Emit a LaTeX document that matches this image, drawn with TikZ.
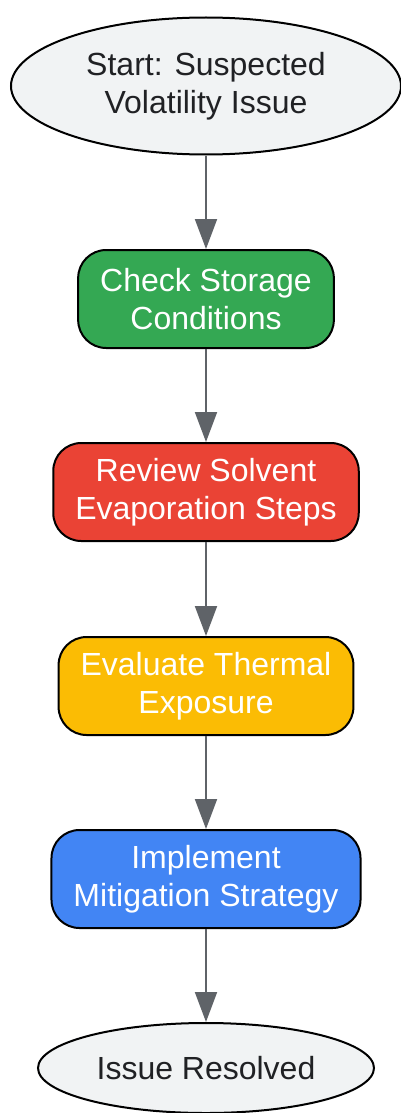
\documentclass[tikz,border=0pt]{standalone}
\usepackage{fontspec}
\setmainfont{Liberation Sans}
\usetikzlibrary{shapes.geometric,arrows.meta}
\definecolor{endfill}{HTML}{F1F3F4}
\definecolor{endtext}{HTML}{202124}
\definecolor{linkgray}{HTML}{5F6368}
\definecolor{stepgreen}{HTML}{34A853}
\definecolor{stepred}{HTML}{EA4335}
\definecolor{stepyellow}{HTML}{FBBC04}
\definecolor{stepblue}{HTML}{4285F4}
\begin{document}
\begin{tikzpicture}[x=1pt,y=1pt,
    every node/.style={font={\fontsize{32}{38.5}\selectfont}, align=center},
    terminal/.style={ellipse, draw=black, line width=2pt, fill=endfill, text=endtext, inner sep=0pt},
    stepbox/.style={rectangle, rounded corners=28pt, draw=black, line width=2pt, text=white,
                    minimum height=98pt, inner xsep=22pt},
    link/.style={draw=linkgray, line width=2pt, -{Triangle[length=30pt,width=22pt]}}]
    \useasboundingbox (0,0) rectangle (400,-1113);
    \node[terminal, minimum width=390pt, minimum height=137pt] (start) at (206,-86)
            {Start: Suspected\\Volatility Issue};
    \node[stepbox, fill=stepgreen] (storage) at (206,-299) {Check Storage\\Conditions};
    \node[stepbox, fill=stepred] (solvent) at (206,-492) {Review Solvent\\Evaporation Steps};
    \node[stepbox, fill=stepyellow] (thermal) at (206,-686) {Evaluate Thermal\\Exposure};
    \node[stepbox, fill=stepblue] (mitigate) at (206,-879) {Implement\\Mitigation Strategy};
    \node[terminal, minimum width=336pt, minimum height=90pt] (resolved) at (206,-1068)
            {Issue Resolved};
    % connectors
    \foreach \a/\b in {start/storage, storage/solvent, solvent/thermal,
                       thermal/mitigate, mitigate/resolved}
        \draw[link] (\a) -- (\b);
\end{tikzpicture}
\end{document}
